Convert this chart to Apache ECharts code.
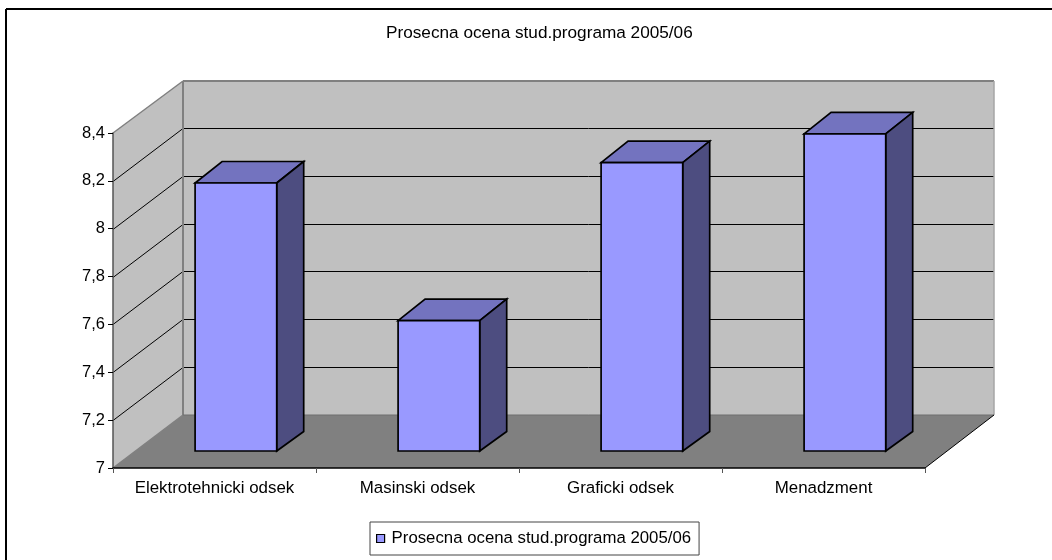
<!DOCTYPE html>
<html><head><meta charset="utf-8">
<style>html,body{margin:0;padding:0;background:#fff}#c{width:1052px;height:560px}</style>
<script src="https://cdn.jsdelivr.net/npm/echarts@6/dist/echarts.min.js"></script>
</head><body><div id="c"></div>
<script>
const categories = ['Elektrotehnicki odsek','Masinski odsek','Graficki odsek','Menadzment'];
const seriesName = 'Prosecna ocena stud.programa 2005/06';
const values = [8.12, 7.545, 8.205, 8.325];
const yTicks = [7, 7.2, 7.4, 7.6, 7.8, 8, 8.2, 8.4];

const FONT = '"Liberation Sans", Arial, sans-serif';
const WALL_DX = 70, WALL_DY = 53, WALL_DY_TOP = 52;
const BAR_SHIFT_X = 21.4, BAR_SHIFT_Y = 17, BAR_W = 0.402, BAR_DX = 27, BAR_DY_TOP = 21.5, BAR_DY_BASE = 19.5;

const chart = echarts.init(document.getElementById('c'), null, {renderer:'canvas'});

function poly(points, fill, stroke, lw){
  return {type:'polygon', shape:{points}, style:{fill, stroke:stroke||null, lineWidth:lw||0}};
}
function line(x1,y1,x2,y2,stroke,lw){
  return {type:'line', shape:{x1,y1,x2,y2}, style:{stroke, lineWidth:lw||1, fill:null}};
}

function renderWalls(params, api){
  const s = params.coordSys;
  const x0 = s.x, x1 = s.x + s.width, yb = s.y + s.height, yt = s.y;
  const bx0 = x0 + WALL_DX, bx1 = x1 + WALL_DX - 1, by = yb - WALL_DY, byt = yt - WALL_DY_TOP;
  const ch = [
    poly([[bx0,byt],[bx1,byt],[bx1,by],[bx0,by]], '#c0c0c0'),
    poly([[x0,yb],[x0,yt],[bx0,byt],[bx0,by]], '#c0c0c0'),
    poly([[x0,yb],[x1,yb],[bx1,by],[bx0,by]], '#808080')
  ];
  yTicks.forEach(v=>{
    if (v === yTicks[0] || v === yTicks[yTicks.length-1]) return;
    const y = Math.round(api.coord([0,v])[1]) + 0.5;
    const by2 = Math.floor(y-WALL_DY)+0.5;
    ch.push(line(x0,y,bx0,by2,'#000',1));
    ch.push(line(bx0,by2,bx1,by2,'#000',1));
  });
  const gy = Math.round(api.coord([0,8.4])[1]);
  ch.push(line(x0,gy,bx0,byt,'#808080',1.5));
  ch.push(line(bx0,byt,bx1,byt,'#808080',2));
  ch.push(line(bx0,byt,bx0,by,'#808080',2));
  ch.push(line(bx1,byt,bx1,by,'#a6a6a6',1.5));
  ch.push(line(x0,yb,bx0,by,'#808080',1.5));
  ch.push(line(bx0,by,bx1,by,'#6e6e6e',1));
  ch.push(line(x1,yb,bx1,by,'#000',1));
  return {type:'group', children:ch};
}

function renderBar(params, api){
  const c = api.value(0), v = api.value(1);
  const top = api.coord([c,v]), base = api.coord([c,7]);
  const w = api.size([1,0])[0] * BAR_W;
  const l = top[0] + BAR_SHIFT_X - w/2, r = l + w;
  const t = top[1] - BAR_SHIFT_Y, b = base[1] - BAR_SHIFT_Y;
  const lw = 1.7, k = '#000';
  return {type:'group', children:[
    poly([[l,t],[r,t],[r+BAR_DX,t-BAR_DY_TOP],[l+BAR_DX,t-BAR_DY_TOP]], '#7373bf', k, lw),
    poly([[r,t],[r+BAR_DX,t-BAR_DY_TOP],[r+BAR_DX,b-BAR_DY_BASE],[r,b]], '#4d4d80', k, lw),
    poly([[l,t],[r,t],[r,b],[l,b]], '#9999ff', k, lw)
  ]};
}

chart.setOption({
  animation:false,
  backgroundColor:'#fff',
  title:{text:seriesName, left:386, top:25, padding:0,
    textStyle:{fontFamily:FONT, fontSize:17.2, fontWeight:'normal', color:'#000'}},
  legend:{
    data:[{name:seriesName, icon:'rect', itemStyle:{color:'#9999ff', borderColor:'#000', borderWidth:1.2}}],
    left:370, top:522, orient:'horizontal',
    itemWidth:8, itemHeight:8, itemGap:0, padding:[8,8,8,6],
    borderColor:'#444', borderWidth:1, backgroundColor:'#fff',
    selectedMode:false,
    textStyle:{fontFamily:FONT, fontSize:16.8, color:'#000', padding:[1,0,0,2]}
  },
  grid:{left:113, top:133, width:812, height:335, containLabel:false},
  xAxis:{type:'category', data:categories, z:10,
    axisLine:{lineStyle:{color:'#000', width:1.5}},
    axisTick:{show:true, length:5, lineStyle:{color:'#555'}},
    axisLabel:{margin:12, fontFamily:FONT, fontSize:16.9, color:'#000', interval:0},
    splitLine:{show:false}},
  yAxis:{type:'value', min:7, max:8.4, interval:0.2, z:10,
    axisLine:{show:true, lineStyle:{color:'#555', width:1.5}},
    axisTick:{show:true, length:5, lineStyle:{color:'#000'}},
    axisLabel:{margin:8, fontFamily:FONT, fontSize:16.5, color:'#000', padding:[3,0,0,0],
      formatter:v=>String(+v.toFixed(1)).replace('.',',')},
    splitLine:{show:false}},
  series:[
    {type:'custom', name:'walls', silent:true, z:1, data:[[0,7]], renderItem:renderWalls, encode:{x:0,y:1}, clip:false},
    {type:'custom', name:seriesName, z:2, data:values.map((v,i)=>[i,v]), renderItem:renderBar, encode:{x:0,y:1}, clip:false,
      itemStyle:{color:'#9999ff'}}
  ],
  graphic:[
    {type:'line', z:100, shape:{x1:6,y1:9,x2:1052,y2:9}, style:{stroke:'#000',lineWidth:2}},
    {type:'line', z:100, shape:{x1:6,y1:9,x2:6,y2:560}, style:{stroke:'#000',lineWidth:2}}
  ]
});
</script></body></html>
